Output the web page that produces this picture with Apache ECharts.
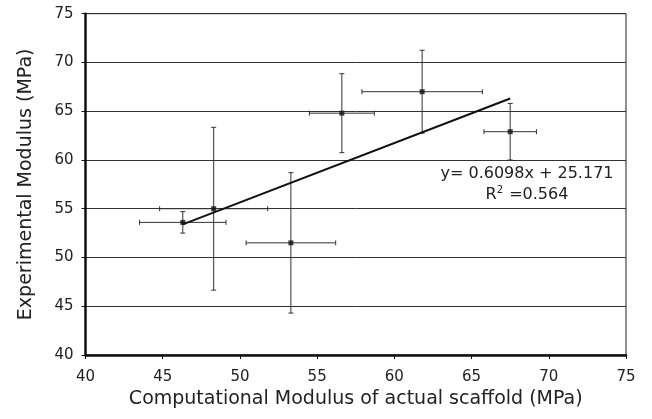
<!DOCTYPE html>
<html>
<head>
<meta charset="utf-8">
<script src="https://cdn.jsdelivr.net/npm/echarts@6/dist/echarts.min.js"></script>
<style>html,body{margin:0;padding:0;background:#fff;}#c{width:652px;height:419px;}</style>
</head>
<body>
<div id="c"></div>
<script>
var xVals = [46.3, 48.3, 53.3, 56.6, 61.8, 67.5];
var yVals = [53.6, 55.0, 51.5, 64.8, 67.0, 62.9];
var xErr = [2.8, 3.5, 2.9, 2.1, 3.9, 1.7];
var yErr = [1.1, 8.35, 7.2, 4.05, 4.25, 2.9];
var trendX = [46.3, 67.5];
var trendY = [53.4, 66.3];
var xTicks = [40, 45, 50, 55, 60, 65, 70, 75];
var yTicks = [40, 45, 50, 55, 60, 65, 70, 75];
var eqLine1 = 'y= 0.6098x + 25.171';
var eqLine2 = '{n|R}{s|2}{n| =0.564}';

var points = xVals.map(function (x, i) { return [x, yVals[i]]; });
var errData = xVals.map(function (x, i) { return [x, yVals[i], xErr[i], yErr[i]]; });
var trend = trendX.map(function (x, i) { return [x, trendY[i]]; });

var FONT = '"DejaVu Sans", Arial, sans-serif';
var chart = echarts.init(document.getElementById('c'), null, {renderer: 'canvas'});
chart.setOption({
  animation: false,
  backgroundColor: '#fff',
  grid: {left: 85.5, right: 26, top: 13.7, bottom: 64, show: true, borderColor: '#222', borderWidth: 1, backgroundColor: 'transparent'},
  xAxis: {
    type: 'value', min: xTicks[0], max: xTicks[xTicks.length - 1], interval: 5,
    axisLine: {show: true, onZero: false, lineStyle: {color: '#111', width: 2.5}},
    axisTick: {show: true, inside: false, length: 4, lineStyle: {color: '#111', width: 1}},
    axisLabel: {color: '#222', fontSize: 15, fontFamily: FONT, margin: 15},
    splitLine: {show: false},
    name: 'Computational Modulus of actual scaffold (MPa)', nameLocation: 'middle', nameGap: 31,
    nameTextStyle: {color: '#222', fontSize: 19, fontFamily: FONT}
  },
  yAxis: {
    type: 'value', min: yTicks[0], max: yTicks[yTicks.length - 1], interval: 5,
    axisLine: {show: true, onZero: false, lineStyle: {color: '#111', width: 2.5}},
    axisTick: {show: true, inside: false, length: 4, lineStyle: {color: '#111', width: 1}},
    axisLabel: {color: '#222', fontSize: 15, fontFamily: FONT, margin: 12},
    splitLine: {show: true, lineStyle: {color: '#333', width: 1}},
    name: 'Experimental Modulus (MPa)', nameLocation: 'middle', nameGap: 50,
    nameTextStyle: {color: '#222', fontSize: 19, fontFamily: FONT}
  },
  series: [
    {
      type: 'custom',
      data: errData,
      z: 3,
      renderItem: function (params, api) {
        var x = api.value(0), y = api.value(1), ex = api.value(2), ey = api.value(3);
        var l = api.coord([x - ex, y]), r = api.coord([x + ex, y]);
        var t = api.coord([x, y + ey]), b = api.coord([x, y - ey]);
        var st = {stroke: '#333', lineWidth: 1};
        var cy = 2.5, cx = 2.5;
        return {
          type: 'group',
          children: [
            {type: 'line', shape: {x1: l[0], y1: l[1], x2: r[0], y2: r[1]}, style: st},
            {type: 'line', shape: {x1: l[0], y1: l[1] - cy, x2: l[0], y2: l[1] + cy}, style: st},
            {type: 'line', shape: {x1: r[0], y1: r[1] - cy, x2: r[0], y2: r[1] + cy}, style: st},
            {type: 'line', shape: {x1: t[0], y1: t[1], x2: b[0], y2: b[1]}, style: st},
            {type: 'line', shape: {x1: t[0] - cx, y1: t[1], x2: t[0] + cx, y2: t[1]}, style: st},
            {type: 'line', shape: {x1: b[0] - cx, y1: b[1], x2: b[0] + cx, y2: b[1]}, style: st}
          ]
        };
      }
    },
    {
      type: 'line', data: trend, showSymbol: false, symbol: 'none', z: 4,
      lineStyle: {color: '#111', width: 2}
    },
    {
      type: 'scatter', data: points, symbol: 'rect', symbolSize: 5, z: 5,
      itemStyle: {color: '#111'}
    }
  ],
  graphic: [
    {
      type: 'text', z: 10,
      x: 527, y: 174,
      style: {text: eqLine1, fill: '#222', font: '16px ' + FONT, textAlign: 'center', textVerticalAlign: 'middle'}
    },
    {
      type: 'text', z: 10,
      x: 527, y: 195,
      style: {
        text: eqLine2, textAlign: 'center', textVerticalAlign: 'middle', fill: '#222',
        rich: {
          n: {fontSize: 16, fontFamily: FONT, color: '#222', lineHeight: 18},
          s: {fontSize: 10, fontFamily: FONT, color: '#222', lineHeight: 18, padding: [0, 1, 9, 0]}
        }
      }
    }
  ]
});
</script>
</body>
</html>
